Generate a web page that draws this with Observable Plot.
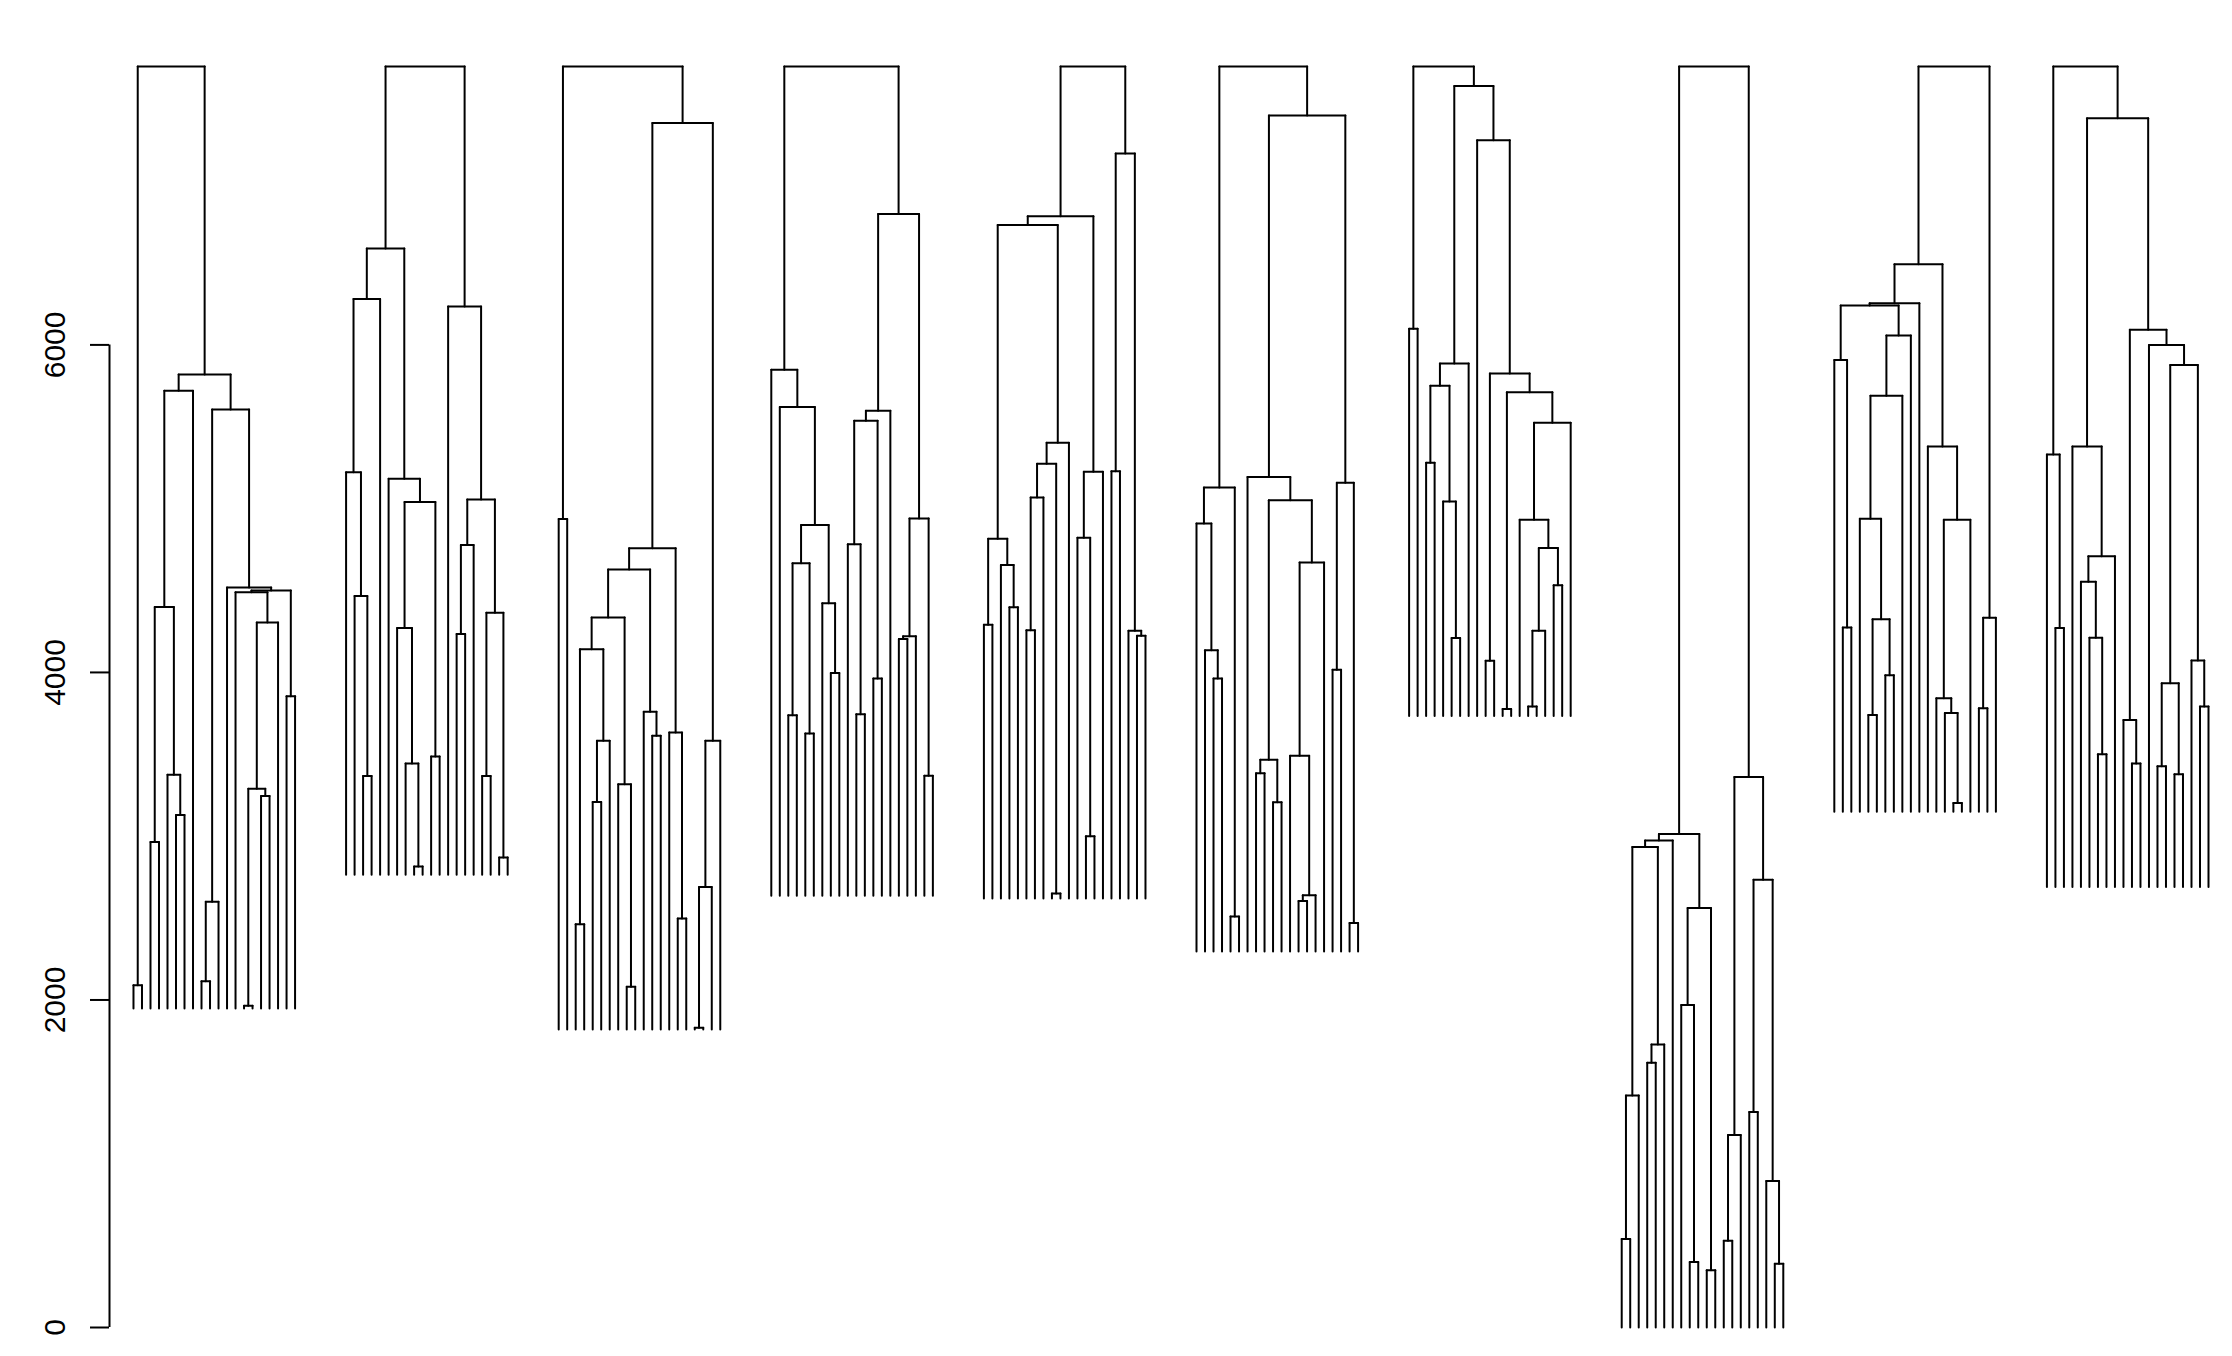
<!DOCTYPE html>
<html>
<head>
<meta charset="utf-8">
<script src="https://cdn.jsdelivr.net/npm/d3@7"></script>
<script src="https://cdn.jsdelivr.net/npm/@observablehq/plot@0.6"></script>
<style>
  html, body { margin: 0; padding: 0; background: #fff; }
  #chart svg { display: block; }
</style>
</head>
<body>
<div id="chart"></div>
<script>
// Each tree node: [merge height, left, right]; a leaf is o (null).
const o = null;

const tree1 = [7700,
  [2090, o, o],
  [5820,
    [5720,
      [4400, [2965, o, o], [3375, o, [3130, o, o]]],
      o],
    [5605,
      [2600, [2115, o, o], o],
      [4518, o,
        [4500,
          [4490, o, [4305, [3290, [1965, o, o], [3245, o, o]], o]],
          [3855, o, o]]]]]];

const tree2 = [7700,
  [6589,
    [6280, [5222, o, [4467, o, [3368, o, o]]], o],
    [5182, o,
      [5040,
        [4272, o, [3444, o, [2815, o, o]]],
        [3487, o, o]]]],
  [6235, o,
    [5056,
      [4778, [4235, o, o], o],
      [4364, [3368, o, o], [2870, o, o]]]]];

const tree3 = [7700,
  [4937, o, o],
  [7355,
    [4759,
      [4628,
        [4335,
          [4142, [2463, o, o], [3583, [3209, o, o], o]],
          [3317, o, [2080, o, o]]],
        [3760, o, [3613, o, o]]],
      [3633, o, [2497, o, o]]],
    [3583, [2690, [1830, o, o], o], o]]];

const tree4 = [7700,
  [5848, o,
    [5621, o,
      [4900,
        [4666, [3738, o, o], [3627, o, o]],
        [4422, o, [3996, o, o]]]]],
  [6800,
    [5598,
      [5537, [4783, o, [3745, o, o]], [3963, o, o]],
      o],
    [4940, [4221, [4204, o, o], o], [3369, o, o]]]];

const tree5 = [7700,
  [6786,
    [6732,
      [4816, [4291, o, o], [4656, o, [4398, o, o]]],
      [5403, [5275, [5068, [4257, o, o], o], [2650, o, o]], o]],
    [5225, [4823, o, [3000, o, o]], o]],
  [7168, [5228, o, o], [4254, o, [4224, o, o]]]];

const tree6 = [7700,
  [5130,
    [4909, o, [4136, o, [3963, o, o]]],
    [2510, o, o]],
  [7401,
    [5193, o,
      [5051,
        [3467, [3385, o, o], [3207, o, o]],
        [4672, [3492, o, [2640, [2605, o, o], o]], o]]],
    [5158, [4016, o, o], [2470, o, o]]]];

const tree7 = [7700,
  [6098, o, o],
  [7581,
    [5886, [5750, [5281, o, o], [5044, o, [4210, o, o]]], o],
    [7250, o,
      [5825,
        [4071, o, o],
        [5711,
          [3776, o, o],
          [5525, [4932, o, [4760, [4254, [3792, o, o], o], [4532, o, o]]], o]]]]]];

const tree8 = [7700,
  [3014,
    [2974,
      [2934, [1416, [540, o, o], o], [1728, [1617, o, o], o]],
      o],
    [2562, [1969, o, [400, o, o]], [350, o, o]]],
  [3361,
    [1175, [530, o, o], o],
    [2734, [1316, o, o], [895, o, [390, o, o]]]]];

const tree9 = [7700,
  [6493,
    [6255,
      [6240,
        [5908, o, [4274, o, o]],
        [6058, [5689, [4939, o, [4325, [3740, o, o], [3983, o, o]]], o], o]],
      o],
    [5379, o, [4933, [3842, o, [3752, o, [3202, o, o]]], o]]],
  [4334, [3782, o, o], o]];

const tree10 = [7700,
  [5331, o, [4272, o, o]],
  [7384,
    [5380, o, [4709, [4553, o, [4212, o, [3500, o, o]]], o]],
    [6093,
      [3709, o, [3444, o, o]],
      [6000, o,
        [5878, [3934, [3427, o, o], [3378, o, o]], [4073, o, [3792, o, o]]]]]]];

const trees = [tree1, tree2, tree3, tree4, tree5, tree6, tree7, tree8, tree9, tree10];
// height at which the leaves of each cluster end
const baselines = [1948, 2765, 1820, 2636, 2620, 2296, 3734, 0, 3150, 2690];
const yTicks = [0, 2000, 4000, 6000];

const leavesPerCluster = 20;
const clusterGap = 5;

// build the segments of every dendrogram
const segs = [];
trees.forEach((t, c) => {
  let leaf = 0;
  const base = baselines[c];
  function walk(n) {
    if (n === null) {
      const x = c * (leavesPerCluster + clusterGap) + leaf++;
      return {x, h: base};
    }
    const [h, l, r] = n;
    const a = walk(l), b = walk(r);
    segs.push({x1: a.x, y1: h, x2: b.x, y2: h});
    segs.push({x1: a.x, y1: h, x2: a.x, y2: a.h});
    segs.push({x1: b.x, y1: h, x2: b.x, y2: b.h});
    return {x: (a.x + b.x) / 2, h};
  }
  walk(t);
});

const nTotal = trees.length * (leavesPerCluster + clusterGap) - clusterGap - 1;
const xMin = -2.82;

const chart = Plot.plot({
  width: 2232,
  height: 1356,
  marginLeft: 109,
  marginRight: 24,
  marginTop: 66,
  marginBottom: 29,
  style: {background: "#fff", fontFamily: "'Liberation Sans', Arial, Helvetica, sans-serif", color: "#000"},
  x: {domain: [xMin, nTotal], axis: null},
  y: {domain: [0, 7700], axis: null},
  marks: [
    Plot.link(segs, {x1: "x1", y1: "y1", x2: "x2", y2: "y2", stroke: "#000", strokeWidth: 2, strokeLinecap: "round"}),
    Plot.ruleX([xMin], {y1: 0, y2: 6000, stroke: "#000", strokeWidth: 2}),
    Plot.axisY(yTicks, {anchor: "left", tickSize: 19, tickRotate: -90, tickPadding: 26, fontSize: 30, stroke: "#000", strokeWidth: 2, fill: "#000", tickFormat: d => String(d)})
  ]
});
document.getElementById("chart").appendChild(chart);
</script>
</body>
</html>
